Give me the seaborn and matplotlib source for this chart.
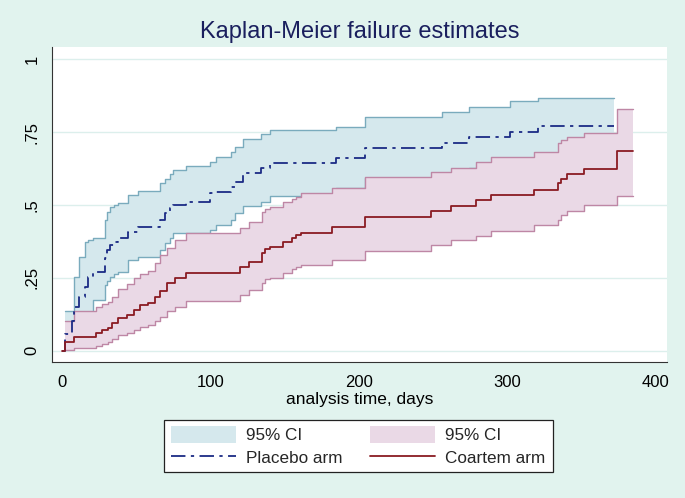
import numpy as np
import pandas as pd
import matplotlib
matplotlib.use("Agg")
import matplotlib.pyplot as plt
import seaborn as sns
from matplotlib.patches import Patch
from matplotlib.lines import Line2D

# ---------------- data ----------------
placebo_time = [0, 2, 7, 8.5, 12, 16, 18, 21, 29, 30.5, 32.5, 35.5, 38, 45, 51.5,
                66, 69.5, 73, 75, 84, 100, 104, 114, 117, 122, 134.5, 140, 185,
                204, 256, 274, 302, 321]
placebo_fail = [0, .057, .10, .151, .185, .22, .254, .271, .318, .345, .363, .374,
                .387, .408, .425, .448, .472, .489, .50, .511, .54, .546, .563, .58,
                .611, .626, .643, .66, .695, .714, .732, .752, .771]
# confidence limits from the first failure time onwards (placebo_time[1:])
placebo_lo = [.008, .025, .05, .075, .10, .13, .175, .225, .24, .254, .262, .271,
              .311, .323, .345, .369, .386, .403, .403, .415, .431, .45, .471, .498,
              .51, .531, .557, .592, .61, .628, .648, .668]
placebo_hi = [.137, .137, .254, .323, .374, .38, .386, .448, .477, .494, .50, .506,
              .534, .549, .575, .59, .605, .62, .632, .649, .666, .683, .70, .726,
              .743, .757, .769, .801, .82, .837, .855, .868]
placebo_end = 372

coartem_time = [0, 2, 8, 23, 27, 31, 34, 38, 44, 49, 53, 58, 63, 66, 71, 76, 84,
                120, 126, 135, 137, 140, 149, 155, 158, 161, 182, 204, 249, 262,
                279, 289, 318, 334, 336, 340, 352, 374]
coartem_fail = [0, .030, .047, .062, .070, .077, .094, .111, .122, .140, .157, .165,
                .185, .203, .231, .248, .266, .288, .305, .335, .350, .357, .374,
                .385, .397, .405, .423, .460, .480, .498, .517, .534, .551, .574,
                .590, .605, .622, .686]
coartem_lo = [.002, .008, .016, .022, .031, .040, .054, .060, .070, .082, .088, .100,
              .115, .135, .151, .172, .191, .208, .231, .245, .250, .266, .280, .287,
              .294, .311, .343, .363, .380, .394, .412, .431, .449, .465, .480, .500,
              .532]
coartem_hi = [.103, .137, .151, .160, .168, .185, .210, .230, .248, .262, .275, .300,
              .328, .351, .380, .403, .420, .443, .477, .485, .494, .510, .522, .528,
              .542, .557, .597, .612, .628, .646, .664, .683, .714, .724, .734, .746,
              .829]
coartem_end = 385

x_ticks = [0, 100, 200, 300, 400]
y_ticks = [0, .25, .5, .75, 1]
y_tick_labels = ["0", ".25", ".5", ".75", "1"]
title_text = "Kaplan-Meier failure estimates"
x_label = "analysis time, days"
legend_labels = ["95% CI", "Placebo arm", "95% CI", "Coartem arm"]

# ---------------- styling ----------------
BG = "#e1f3ee"
BLUE_FILL, BLUE_EDGE, NAVY = "#d5e8ed", "#7aabbd", "#1b2b85"
PINK_FILL, PINK_EDGE, MAROON = "#ead9e6", "#be87a5", "#8a1b22"

sns.set_style("white")
plt.rcParams["font.family"] = ["Liberation Sans", "DejaVu Sans"]

fig = plt.figure(figsize=(6.85, 4.98), dpi=100, facecolor=BG)
ax = fig.add_axes([52 / 685, 1 - 362 / 498, (667 - 52) / 685, (362 - 47) / 498])
ax.set_facecolor("white")


def arm_frames(time, fail, lo, hi, end):
    est = pd.DataFrame({"t": list(time) + [end], "f": list(fail) + [fail[-1]]})
    ci = pd.DataFrame({"t": list(time[1:]) + [end],
                       "lo": list(lo) + [lo[-1]],
                       "hi": list(hi) + [hi[-1]]})
    return est, ci


p_est, p_ci = arm_frames(placebo_time, placebo_fail, placebo_lo, placebo_hi, placebo_end)
c_est, c_ci = arm_frames(coartem_time, coartem_fail, coartem_lo, coartem_hi, coartem_end)

# gridlines
for y in y_ticks:
    ax.axhline(y, color="#dcefec", lw=1.0, zorder=0)

# placebo band
ax.fill_between(p_ci["t"], p_ci["lo"], p_ci["hi"], step="post", color=BLUE_FILL,
                lw=0, zorder=1)
for col in ["lo", "hi"]:
    sns.lineplot(data=p_ci, x="t", y=col, drawstyle="steps-post", color=BLUE_EDGE,
                 lw=1.0, sort=False, estimator=None, ax=ax, zorder=2)
# coartem band
ax.fill_between(c_ci["t"], c_ci["lo"], c_ci["hi"], step="post", color=PINK_FILL,
                lw=0, zorder=3)
for col in ["lo", "hi"]:
    sns.lineplot(data=c_ci, x="t", y=col, drawstyle="steps-post", color=PINK_EDGE,
                 lw=1.0, sort=False, estimator=None, ax=ax, zorder=4)

dashdot = (0, (8, 3, 1.8, 3))
sns.lineplot(data=p_est, x="t", y="f", drawstyle="steps-post", color=NAVY, lw=1.3,
             linestyle=dashdot, sort=False, estimator=None, ax=ax, zorder=6)
sns.lineplot(data=c_est, x="t", y="f", drawstyle="steps-post", color=MAROON, lw=1.3,
             sort=False, estimator=None, ax=ax, zorder=6)

ax.set_xlim(-6.5, 407.6)
ax.set_ylim(-0.039, 1.042)
ax.set_xticks(x_ticks)
ax.set_xticklabels([str(v) for v in x_ticks])
ax.set_yticks(y_ticks)
ax.set_yticklabels(y_tick_labels, rotation=90, va="center", ha="right")
ax.tick_params(axis="both", direction="out", length=5, width=0.8, colors="#222222",
               labelsize=12, labelcolor="black")
ax.tick_params(axis="x", pad=4)
ax.tick_params(axis="y", pad=4)
ax.set_xlabel(x_label, fontsize=12.5, labelpad=2, color="black")
ax.set_ylabel("")
for s in ["top", "right"]:
    ax.spines[s].set_visible(False)
for s in ["left", "bottom"]:
    ax.spines[s].set_color("#333333")
    ax.spines[s].set_linewidth(0.8)

fig.text(359.5 / 685, 1 - 32 / 498, title_text, ha="center", va="center",
         fontsize=17, color="#1a1f5e")

handles = [Patch(facecolor=BLUE_FILL, edgecolor="none"),
           Line2D([], [], color=NAVY, lw=1.3, linestyle=dashdot),
           Patch(facecolor=PINK_FILL, edgecolor="none"),
           Line2D([], [], color=MAROON, lw=1.3)]
leg = fig.legend(handles, legend_labels, ncol=2, loc="center",
                 bbox_to_anchor=(358.5 / 685, 1 - 446 / 498), fontsize=12.3,
                 frameon=True, fancybox=False, edgecolor="#222222",
                 facecolor="white", framealpha=1, handlelength=3.8,
                 handleheight=1.1, handletextpad=0.6, columnspacing=1.6,
                 labelspacing=0.3, borderpad=0.4)
leg.get_frame().set_linewidth(0.9)

fig.savefig("out.png", dpi=100, facecolor=BG)
